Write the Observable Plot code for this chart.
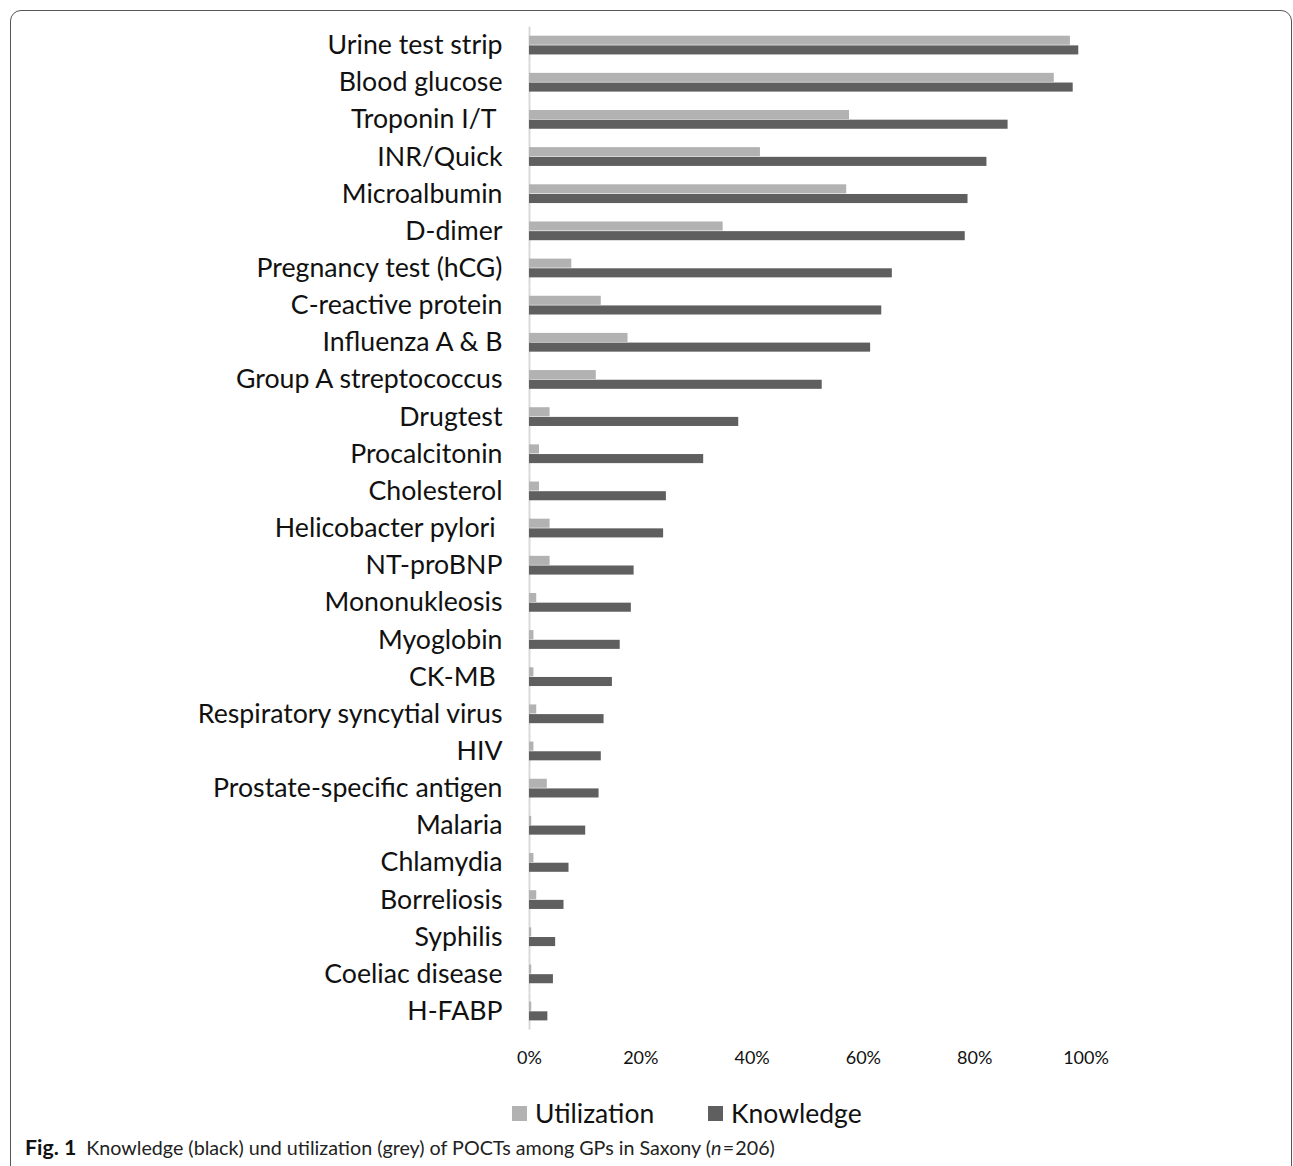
<!DOCTYPE html>
<html>
<head>
<meta charset="utf-8">
<script src="https://cdn.jsdelivr.net/npm/d3@7"></script>
<script src="https://cdn.jsdelivr.net/npm/@observablehq/plot@0.6"></script>
<style>
  html, body { margin: 0; padding: 0; background: #fff; }
  #page { position: relative; width: 1293px; height: 1166px; overflow: hidden; font-family: Lato, "Open Sans", sans-serif; }
  #frame { position: absolute; left: 10px; top: 10px; width: 1282px; height: 1200px; border: 1.5px solid #555; border-radius: 11px; box-sizing: border-box; }
  #chart { position: absolute; left: 0; top: 0; }
  #chart svg text { white-space: pre; }
  #legend { position: absolute; top: 1097px; left: 0; width: 1293px; height: 32px; font-size: 26.5px; color: #111; }
  .item { position: absolute; top: 0; display: flex; align-items: center; height: 32px; }
  .sw { width: 15px; height: 15px; margin-right: 8px; }
  #caption { position: absolute; left: 25px; top: 1134px; font-size: 19.7px; color: #222; white-space: nowrap; }
  #caption b { font-size: 21.3px; margin-right: 10px; color: #111; }
</style>
</head>
<body>
<div id="page">
  <div id="frame"></div>
  <div id="chart"></div>
  <div id="legend"></div>
  <div id="caption"><b>Fig. 1</b>Knowledge (black) und utilization (grey) of POCTs among GPs in Saxony (<i>n</i>&#8202;=&#8202;206)</div>
</div>
<script>
const categories = [
  "Urine test strip", "Blood glucose", "Troponin I/T ", "INR/Quick", "Microalbumin",
  "D-dimer", "Pregnancy test (hCG)", "C-reactive protein", "Influenza A & B",
  "Group A streptococcus", "Drugtest", "Procalcitonin", "Cholesterol",
  "Helicobacter pylori ", "NT-proBNP", "Mononukleosis", "Myoglobin", "CK-MB ",
  "Respiratory syncytial virus", "HIV", "Prostate-specific antigen", "Malaria",
  "Chlamydia", "Borreliosis", "Syphilis", "Coeliac disease", "H-FABP"
];
const utilization = [
  97.2, 94.3, 57.5, 41.5, 57.0,
  34.8, 7.6, 12.9, 17.7,
  12.0, 3.7, 1.8, 1.8,
  3.7, 3.7, 1.3, 0.8, 0.8,
  1.3, 0.8, 3.2, 0.4,
  0.8, 1.3, 0.4, 0.4, 0.4
];
const knowledge = [
  98.7, 97.7, 86.0, 82.2, 78.8,
  78.3, 65.2, 63.3, 61.3,
  52.6, 37.6, 31.3, 24.6,
  24.1, 18.8, 18.3, 16.3, 14.9,
  13.4, 12.9, 12.5, 10.1,
  7.1, 6.2, 4.7, 4.3, 3.3
];
const seriesNames = ["Utilization", "Knowledge"];
const seriesColors = ["#b2b2b2", "#5f5f5f"];
const xTicks = [0, 20, 40, 60, 80, 100];

const data = categories.flatMap((c, i) => [
  {category: c, series: seriesNames[0], value: utilization[i]},
  {category: c, series: seriesNames[1], value: knowledge[i]}
]);

const chart = Plot.plot({
  width: 1293,
  height: 1075,
  marginLeft: 529,
  marginRight: 207.5,
  marginTop: 26.5,
  marginBottom: 45.4,
  style: {fontFamily: "Lato, 'Open Sans', sans-serif", color: "#111", background: "transparent"},
  x: {domain: [0, 100]},
  y: {domain: seriesNames, axis: null, paddingInner: 0, paddingOuter: 0.92, round: false},
  fy: {domain: categories, padding: 0, round: false},
  color: {domain: seriesNames, range: seriesColors},
  marks: [
    Plot.ruleX([0], {stroke: "#d9d9d9", strokeWidth: 2}),
    Plot.barX(data, {x: "value", y: "series", fy: "category", fill: "series", insetTop: 0.3, insetBottom: 0.3}),
    Plot.axisX({ticks: xTicks, tickFormat: d => d + "%", tickSize: 0, tickPadding: 21, fontSize: 18, label: null, fill: "#111"}),
    Plot.axisFy({anchor: "left", tickSize: 0, tickPadding: 27, fontSize: 26.7, label: null, fill: "#111"})
  ]
});
document.getElementById("chart").appendChild(chart);

const legend = document.getElementById("legend");
const legendX = [512, 708];
seriesNames.forEach((s, i) => {
  const item = document.createElement("div");
  item.className = "item";
  item.style.left = legendX[i] + "px";
  item.innerHTML = `<div class="sw" style="background:${seriesColors[i]}"></div><span>${s}</span>`;
  legend.appendChild(item);
});
</script>
</body>
</html>
